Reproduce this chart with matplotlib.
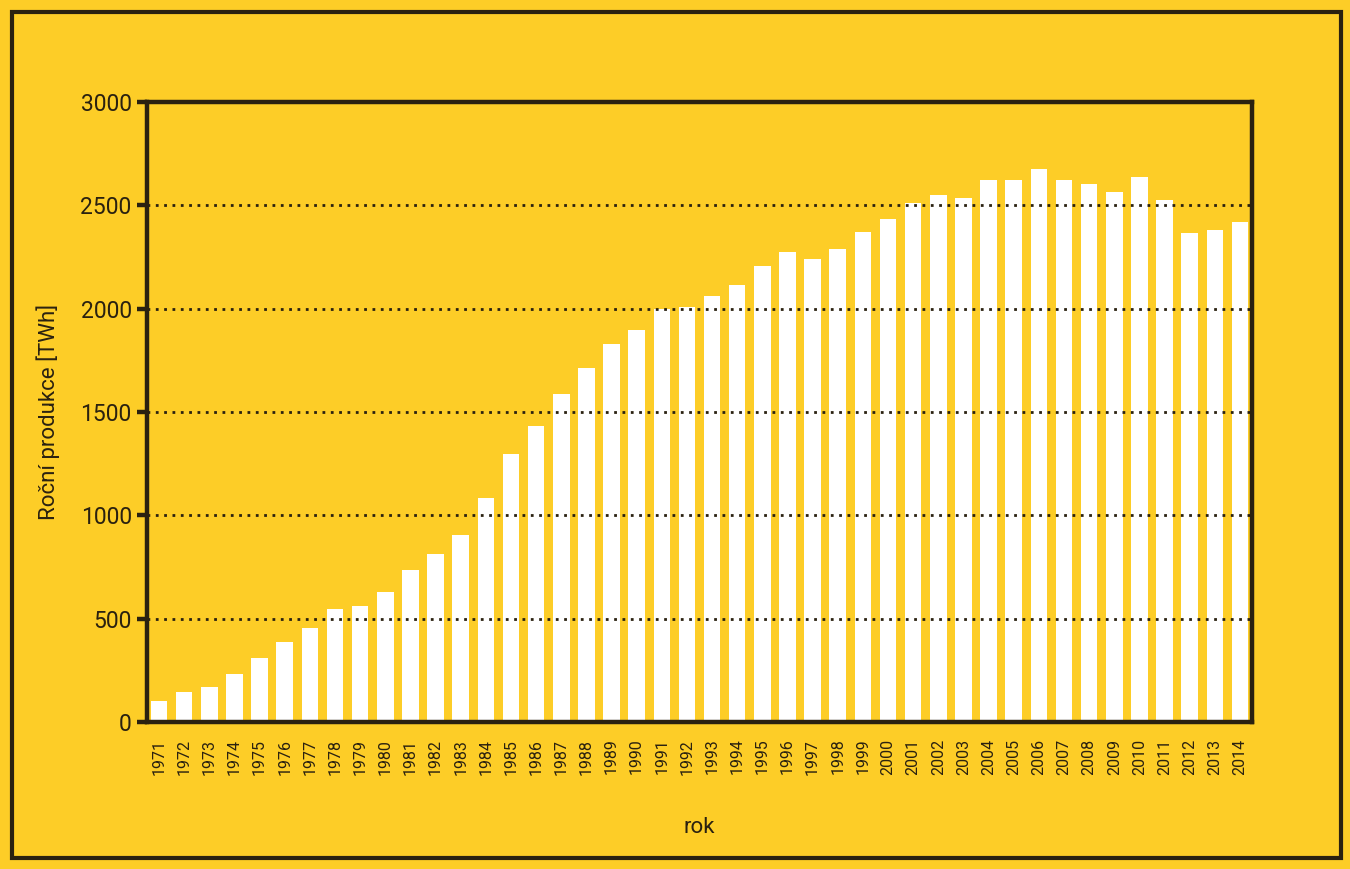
import numpy as np
import matplotlib.pyplot as plt
from matplotlib.patches import Rectangle

# roční produkce [TWh]
roky = list(range(1971, 2015))
produkce = [100, 143, 167, 232, 310, 385, 453, 547, 563, 627,
            737, 812, 905, 1085, 1295, 1430, 1585, 1715, 1830, 1895,
            2000, 2010, 2063, 2115, 2205, 2275, 2241, 2291, 2373, 2436,
            2512, 2552, 2536, 2625, 2625, 2676, 2625, 2604, 2565, 2636,
            2526, 2365, 2381, 2420]

yticks = [0, 500, 1000, 1500, 2000, 2500, 3000]

yellow = '#fdcd27'
dark = '#2a2110'

plt.rcParams['font.family'] = ['Roboto', 'DejaVu Sans']

fig = plt.figure(figsize=(13.5, 8.69), dpi=100, facecolor=yellow)
ax = fig.add_axes([147 / 1350, 1 - 722 / 869, 1105 / 1350, 620 / 869])
ax.set_facecolor(yellow)

x = np.arange(len(roky))
ax.bar(x, produkce, width=0.66, color='white', zorder=2)

ax.set_xlim(-0.48, len(roky) - 0.52)
ax.set_ylim(0, 3000)
ax.set_yticks(yticks)
ax.set_xticks(x)
ax.set_xticklabels([str(r) for r in roky], rotation=90, fontsize=11.5, color=dark)

for v in yticks[1:-1]:
    ax.axhline(v, color=dark, lw=2, ls=(0, (1, 2)), zorder=3)

for s in ax.spines.values():
    s.set_linewidth(3.2)
    s.set_color(dark)

ax.tick_params(axis='y', direction='out', length=7, width=3.2, color=dark,
               labelsize=16.5, labelcolor=dark, pad=4)
ax.tick_params(axis='x', length=0, pad=12)

ax.set_ylabel('Roční produkce [TWh]', fontsize=16, color=dark)
ax.yaxis.set_label_coords(-0.079, 0.5)
ax.set_xlabel('rok', fontsize=16, color=dark)
ax.xaxis.set_label_coords(0.5, -0.153)

# vnější rámeček
fig.patches.append(Rectangle((11.5 / 1350, 1 - 858 / 869), 1329.5 / 1350, 846 / 869,
                             transform=fig.transFigure, fill=False,
                             edgecolor=dark, lw=3))

fig.savefig('out.png', dpi=100, facecolor=yellow)
